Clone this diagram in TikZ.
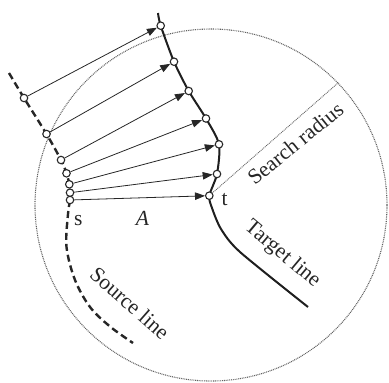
\documentclass[tikz,border=0pt]{standalone}
\usepackage{fontspec}
\setmainfont{Liberation Serif}
\usetikzlibrary{arrows.meta}
\begin{document}
\begin{tikzpicture}[x=1bp,y=-1bp,
  dotline/.style={draw=black!62, line width=1.1bp, dash pattern=on 0.9bp off 0.9bp},
  srcline/.style={draw=black!85, line width=2.4bp, dash pattern=on 7bp off 4bp},
  tgtline/.style={draw=black!88, line width=2bp},
  pt/.style={circle, draw=black!85, fill=white, line width=1.1bp, minimum size=7.5bp, inner sep=0pt},
  arr/.style={draw=black!85, line width=0.8bp, -{Triangle[length=10bp,width=7.5bp]}},
  lbl/.style={font=\fontsize{21.5bp}{25bp}\selectfont, inner sep=0pt, text=black!85}]
\useasboundingbox (0,0) rectangle (389,383);
% search circle and radius
\coordinate (c) at (211,205);
\coordinate (r) at (338.3,82.7);
\draw[dotline] (c) circle[radius=176bp];
% target points
\coordinate (T0) at (158,13);
\coordinate (T1) at (160.7,25.7);
\coordinate (T2) at (174,61.7);
\coordinate (T3) at (188.7,91);
\coordinate (T4) at (206,118.5);
\coordinate (T5) at (219,144.3);
\coordinate (T6) at (217,174);
\coordinate (T7) at (209.3,195.7);
\coordinate (Ta) at (212,208);
\coordinate (Tb) at (221,229);
\coordinate (Tc) at (240,252);
\coordinate (Td) at (308,307);
% source points
\coordinate (S0) at (9,73);
\coordinate (S1) at (24,98);
\coordinate (S2) at (46.5,134);
\coordinate (S3) at (61,160);
\coordinate (S4) at (66.5,173.3);
\coordinate (S5) at (69.3,184.3);
\coordinate (S6) at (70,192.7);
\coordinate (S7) at (70,200);
\coordinate (Sa) at (68,214);
\coordinate (Sb) at (66.5,247);
\coordinate (Sc) at (75,280);
\coordinate (Sd) at (90,307);
\coordinate (Se) at (110,326.5);
\coordinate (Sf) at (133,343);
\draw[dotline, line width=0.9bp] (T7) -- (r);
\draw[srcline] plot[smooth, tension=0.55] coordinates {(S0) (S1) (S2) (S3) (S4) (S5) (S6) (S7) (Sa) (Sb) (Sc) (Sd) (Se) (Sf)};
\draw[tgtline] plot[smooth, tension=0.45] coordinates {(T0) (T1) (T2) (T3) (T4) (T5) (T6) (T7) (Ta) (Tb) (Tc) (Td)};
% point nodes
\foreach \i in {1,...,7} {
  \node[pt] (s\i) at (S\i) {};
  \node[pt] (t\i) at (T\i) {};
}
\foreach \i in {1,...,7} {
  \draw[arr] (s\i) -- (t\i);
}
% labels
\node[lbl, anchor=base] (ls) at (78.3,225) {s};
\node[lbl, anchor=base] (lA) at (142.5,225) {\itshape A};
\node[lbl, anchor=base] (lt) at (224.5,205) {t};
\node[lbl, anchor=base, rotate=39] (lsr) at (300,149) {Search radius};
\node[lbl, anchor=base, rotate=-40] (ltl) at (279,258.5) {Target line};
\node[lbl, anchor=base, rotate=-41.4] (lsl) at (125,309) {Source line};
\end{tikzpicture}
\end{document}
